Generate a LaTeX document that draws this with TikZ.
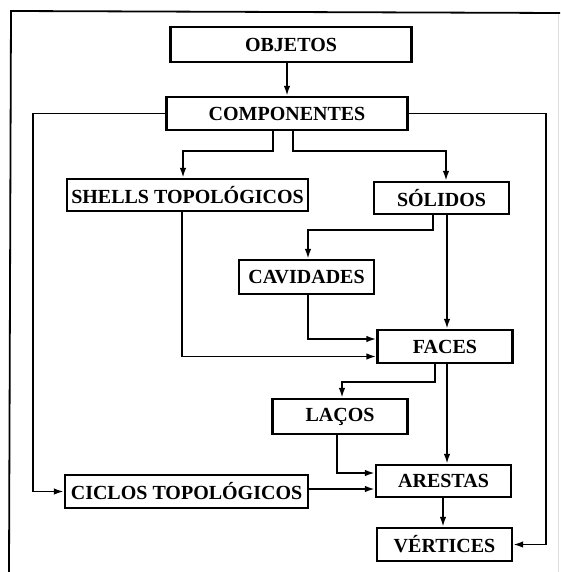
\documentclass[tikz,border=0pt]{standalone}
\usepackage{fontspec}
\setmainfont{Liberation Serif}
\usetikzlibrary{arrows.meta}
\begin{document}
\begin{tikzpicture}
[x=1pt,y=-1pt,
 wide/.style={minimum width=241pt},
 narrow/.style={minimum width=135pt},
 link/.style={line width=1.9pt,-{Latex[length=10pt,width=6.5pt]}},
 every node/.style=
   {minimum height=33pt,inner sep=0pt,rectangle,draw=black,line width=2.2pt,
    font=\fontsize{20}{22}\selectfont\bfseries}]
\useasboundingbox (0,0) rectangle (560,572);
% frame
\draw[line width=1.8pt] (9,572) -- (11,11) -- (560,13);
\draw[gray!25,line width=0.8pt] (558,14) -- (558,572);
% boxes
\node [wide,minimum height=35pt] (obj) at (291,44.5) {OBJETOS};
\node [wide] (comp) at (287,113.5) {COMPONENTES};
\node [wide,minimum height=32pt] (shells) at (187.5,195) {SHELLS TOPOLÓGICOS};
\node [narrow,minimum height=32pt] (sol) at (441.5,198) {SÓLIDOS};
\node [narrow,minimum height=34pt] (cav) at (306.5,277) {CAVIDADES};
\node [narrow] (faces) at (445,346.5) {FACES};
\node [narrow,minimum height=35pt] (lacos) at (340,416.5) {LAÇOS};
\node [narrow,minimum height=32pt] (arestas) at (443.5,481) {ARESTAS};
\node [wide,minimum width=243pt] (ciclos) at (186.5,491.5) {CICLOS TOPOLÓGICOS};
\node [narrow] (vert) at (444.5,544.5) {VÉRTICES};
% outer routes
\coordinate (lft) at (33,0);
\coordinate (rgt) at (546,0);
% connectors
\draw [link] (obj.south -| comp.north) -- (comp.north);
\draw [link] (comp.west) -- (comp.west -| lft) |- (ciclos.west);
\draw [link] (comp.east) -- (comp.east -| rgt) |- (vert.east);
\draw [link] ([xshift=-14pt]comp.south) -- ++(0,20) -| ([xshift=-4.5pt]shells.north);
\draw [link] ([xshift=6pt]comp.south) -- ++(0,20) -| ([xshift=4.5pt]sol.north);
\draw [link] ([xshift=-8.5pt]sol.south) -- ++(0,15) -| ([xshift=1.5pt]cav.north);
\draw [link] ([xshift=5.5pt]sol.south) -- ([xshift=2pt]faces.north);
\draw [link] ([xshift=-5.5pt]shells.south) |- ([yshift=-10pt]faces.west);
\draw [link] ([xshift=1.5pt]cav.south) |- ([yshift=7.5pt]faces.west);
\draw [link] ([xshift=-10pt]faces.south) -- ++(0,18) -| ([xshift=2pt]lacos.north);
\draw [link] ([xshift=2pt]faces.south) -- ([xshift=3.5pt]arestas.north);
\draw [link] ([xshift=-3pt]lacos.south) |- ([yshift=8pt]arestas.west);
\draw [link] ([yshift=2.5pt]ciclos.east) -- ([yshift=-8pt]arestas.west);
\draw [link] ([xshift=-0.5pt]arestas.south) -- ([xshift=-1.5pt]vert.north);
\end{tikzpicture}
\end{document}
